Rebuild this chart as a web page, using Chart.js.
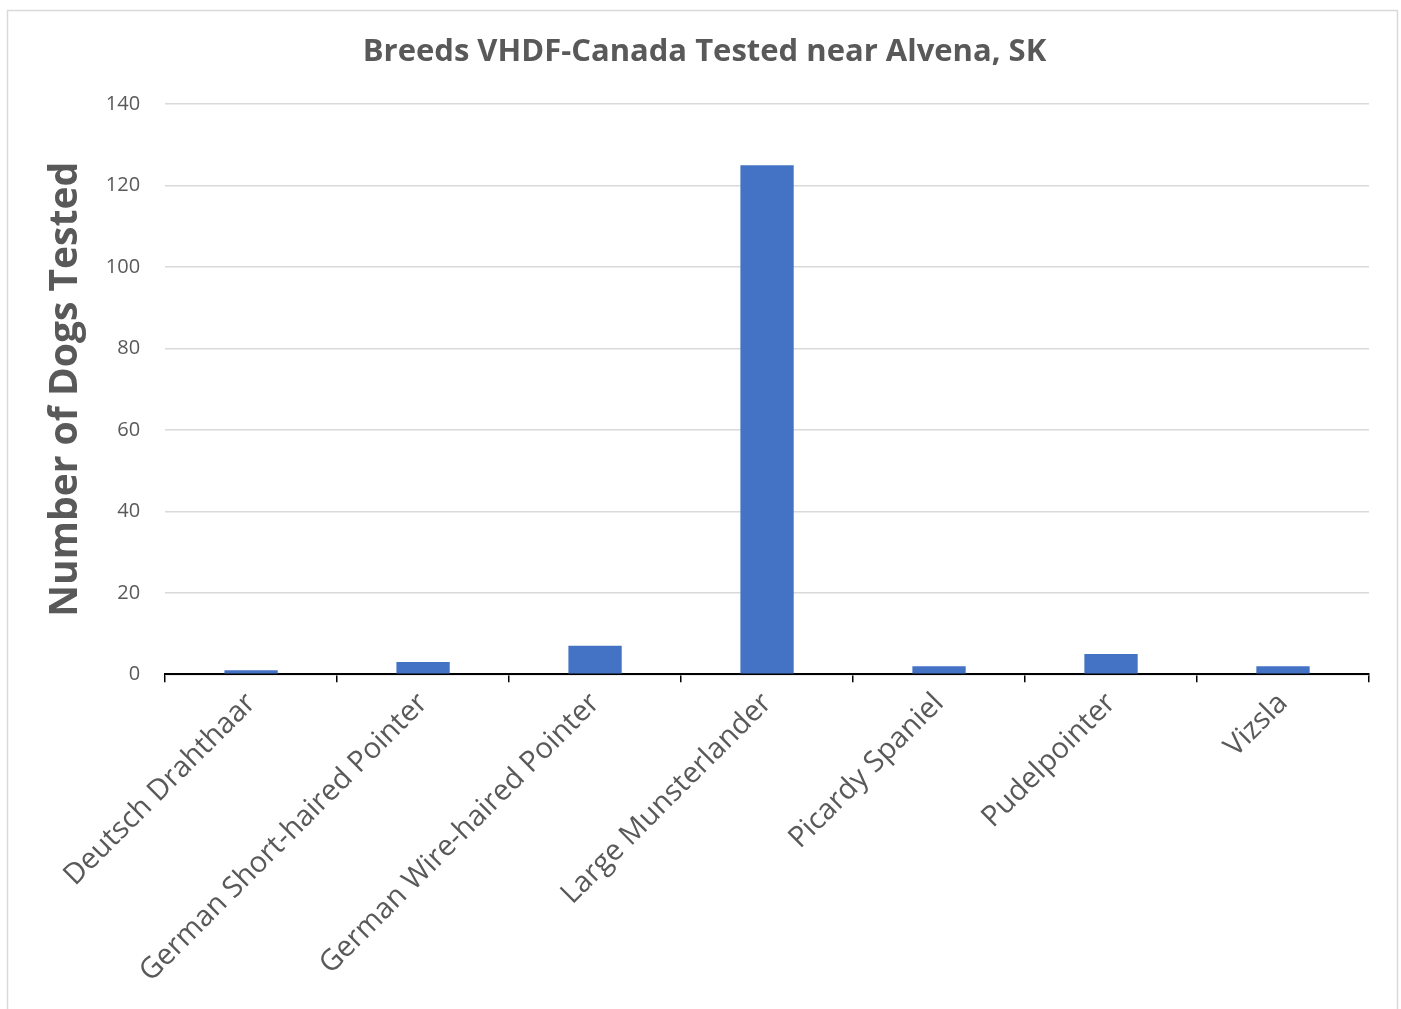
<!DOCTYPE html>
<html>
<head>
<meta charset="utf-8">
<script src="https://cdn.jsdelivr.net/npm/chart.js@4/dist/chart.umd.min.js"></script>
<style>
html,body{margin:0;padding:0;background:#fff;}
#wrap{position:absolute;left:0;top:0;width:1401px;height:1009px;}
</style>
</head>
<body>
<div id="wrap"><canvas id="c"></canvas></div>
<script>
const categories = ["Deutsch Drahthaar","German Short-haired Pointer","German Wire-haired Pointer","Large Munsterlander","Picardy Spaniel","Pudelpointer","Vizsla"];
const dogsTested = [1, 3, 7, 125, 2, 5, 2];
const yTicks = [0, 20, 40, 60, 80, 100, 120, 140];

const borderPlugin = {
  id: 'outerBorder',
  beforeDraw(chart) {
    const ctx = chart.ctx;
    ctx.save();
    ctx.fillStyle = '#fff';
    ctx.fillRect(0, 0, chart.width, chart.height);
    ctx.strokeStyle = '#d9d9d9';
    ctx.lineWidth = 1.5;
    ctx.strokeRect(7.5, 10.5, 1390, 1000);
    ctx.restore();
  }
};

new Chart(document.getElementById('c'), {
  type: 'bar',
  data: {
    labels: categories,
    datasets: [{
      data: dogsTested,
      backgroundColor: '#4472c4',
      borderWidth: 0,
      categoryPercentage: 1,
      barPercentage: 0.31
    }]
  },
  options: {
    responsive: true,
    maintainAspectRatio: false,
    animation: false,
    layout: { padding: { left: 40, right: 32, top: 22, bottom: 16 } },
    plugins: {
      legend: { display: false },
      tooltip: { enabled: false },
      title: {
        display: true,
        text: 'Breeds VHDF-Canada Tested near Alvena, SK',
        color: '#595959',
        font: { family: '"Open Sans", sans-serif', size: 31, weight: 'bold' },
        padding: { top: 12, bottom: 33 }
      }
    },
    scales: {
      x: {
        type: 'category',
        afterFit(scale) { scale.paddingLeft = 0; scale.paddingRight = 0; },
        grid: {
          offset: true,
          drawOnChartArea: false,
          drawTicks: true,
          tickLength: 8,
          color: '#000',
          lineWidth: 1.5
        },
        border: { display: true, color: '#000', width: 2 },
        ticks: {
          color: '#595959',
          font: { family: '"Open Sans", sans-serif', size: 29 },
          minRotation: 45,
          maxRotation: 45,
          padding: 4,
          autoSkip: false
        }
      },
      y: {
        min: 0,
        max: 140,
        afterBuildTicks(axis) { axis.ticks = yTicks.map(v => ({ value: v })); },
        grid: { color: '#d9d9d9', lineWidth: 1.5, drawTicks: false },
        border: { display: false },
        ticks: {
          color: '#595959',
          font: { family: '"Open Sans", sans-serif', size: 20 },
          padding: 25
        },
        title: {
          display: true,
          text: 'Number of Dogs Tested',
          color: '#595959',
          font: { family: '"Open Sans", sans-serif', size: 39, weight: 'bold' },
          padding: { top: 2, bottom: -8 }
        }
      }
    }
  },
  plugins: [borderPlugin]
});
</script>
</body>
</html>
